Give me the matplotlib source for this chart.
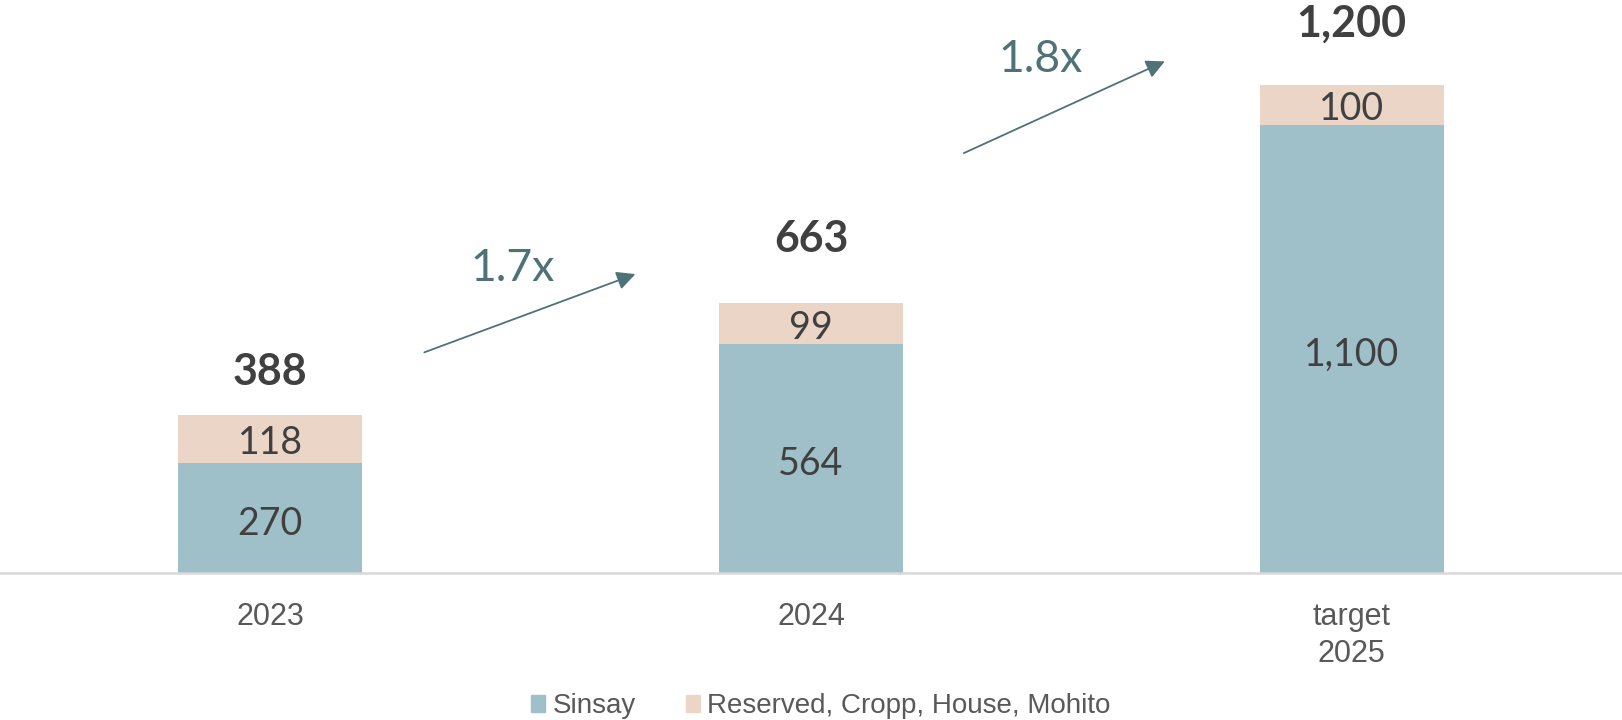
import matplotlib
matplotlib.use("Agg")
import matplotlib.pyplot as plt
from matplotlib.patches import Patch

# values
years = ["2023", "2024", "target\n2025"]
sinsay = [270, 564, 1100]
others = [118, 99, 100]
totals = [388, 663, 1200]
growth = ["1.7x", "1.8x"]

c_sinsay = "#9fc0c8"
c_other = "#ebd5c7"
c_text = "#404040"
c_arrow = "#4e7277"

fig = plt.figure(figsize=(16.22, 7.2), dpi=100)
ax = fig.add_axes([0, 0.204, 1, 0.796])

x = list(range(len(years)))
w = 0.34
ax.bar(x, sinsay, w, color=c_sinsay, label="Sinsay")
ax.bar(x, others, w, bottom=sinsay, color=c_other, label="Reserved, Cropp, House, Mohito")

total_gap = [31, 46, 44]  # points above bar top
for i in x:
    ax.annotate(f"{sinsay[i]:,}", (i, sinsay[i] / 2), xytext=(0, -4), textcoords="offset points",
                ha="center", va="center", fontsize=27, family="Lato", color=c_text)
    ax.annotate(f"{others[i]:,}", (i, sinsay[i] + others[i] / 2), xytext=(0, -3),
                textcoords="offset points", ha="center", va="center",
                fontsize=27, family="Lato", color=c_text)
    ax.annotate(f"{totals[i]:,}", (i, totals[i]), xytext=(0, total_gap[i]), textcoords="offset points",
                ha="center", va="center", fontsize=31, fontweight="bold",
                family="Lato", color=c_text)

# growth arrows between bars
arrows = [((0.28, 540), (0.68, 737), (0.448, 748)),
          ((1.278, 1029), (1.659, 1260), (1.424, 1262))]
for (start, end, lab), g in zip(arrows, growth):
    ax.annotate("", xy=end, xytext=start,
                arrowprops=dict(arrowstyle="-|>", color=c_arrow, lw=1.3, mutation_scale=28))
    ax.text(lab[0], lab[1], g, ha="center", va="center", fontsize=32,
            family="Lato", color=c_arrow)

ax.set_xlim(-0.5, 2.5)
ax.set_ylim(0, 1408)
ax.set_yticks([])
ax.set_xticks(x)
ax.set_xticklabels(years, fontsize=22, family="Liberation Sans", color="#595959",
                   linespacing=1.3)
ax.tick_params(axis="x", length=0, pad=21)
for s in ["top", "right", "left"]:
    ax.spines[s].set_visible(False)
ax.spines["bottom"].set_color("#d9d9d9")
ax.spines["bottom"].set_linewidth(1.8)

handles = [Patch(color=c_sinsay, label="Sinsay"),
           Patch(color=c_other, label="Reserved, Cropp, House, Mohito")]
fig.legend(handles=handles, loc="center", bbox_to_anchor=(0.506, 0.019), ncol=2,
           frameon=False, handlelength=0.52, handleheight=0.52, handletextpad=0.25,
           columnspacing=1.8, prop={"family": "Liberation Sans", "size": 20},
           labelcolor="#595959", borderpad=0)

fig.savefig("out.png", dpi=100)
